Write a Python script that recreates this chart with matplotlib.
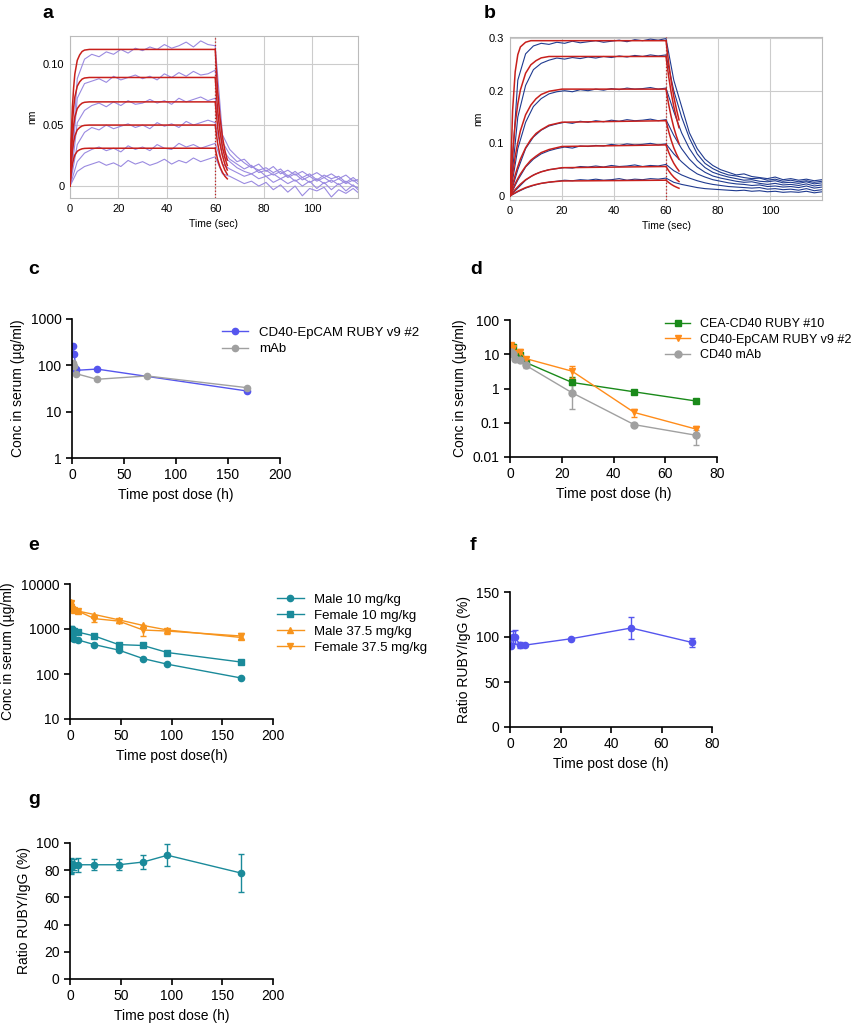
import numpy as np
import matplotlib
matplotlib.use("Agg")
import matplotlib.pyplot as plt

plt.rcParams['font.family'] = ['Liberation Sans', 'DejaVu Sans']

# ---------------- data: panel a (sensorgram) ----------------
t_assoc = list(range(0, 61, 3))
t_diss = list(range(63, 121, 3))
a_assoc = [
    [0, 0.088, 0.104, 0.108, 0.106, 0.110, 0.108, 0.112, 0.109, 0.113, 0.111, 0.114, 0.112, 0.116, 0.113, 0.115, 0.118, 0.114, 0.119, 0.116, 0.115],
    [0, 0.072, 0.084, 0.086, 0.088, 0.085, 0.090, 0.087, 0.089, 0.091, 0.088, 0.090, 0.087, 0.092, 0.089, 0.093, 0.090, 0.094, 0.091, 0.092, 0.095],
    [0, 0.052, 0.062, 0.066, 0.068, 0.065, 0.069, 0.066, 0.070, 0.067, 0.068, 0.071, 0.068, 0.070, 0.067, 0.072, 0.069, 0.071, 0.073, 0.070, 0.072],
    [0, 0.034, 0.044, 0.048, 0.046, 0.050, 0.047, 0.049, 0.051, 0.048, 0.050, 0.047, 0.052, 0.049, 0.051, 0.048, 0.053, 0.050, 0.052, 0.054, 0.052],
    [0, 0.020, 0.027, 0.030, 0.032, 0.029, 0.031, 0.028, 0.033, 0.030, 0.032, 0.029, 0.034, 0.031, 0.030, 0.035, 0.032, 0.034, 0.031, 0.033, 0.035],
    [0, 0.012, 0.016, 0.018, 0.020, 0.017, 0.019, 0.016, 0.021, 0.018, 0.020, 0.017, 0.019, 0.022, 0.018, 0.021, 0.019, 0.023, 0.020, 0.022, 0.024],
]
a_diss = [
    [0.042, 0.030, 0.024, 0.019, 0.015, 0.018, 0.012, 0.016, 0.010, 0.013, 0.009, 0.012, 0.008, 0.011, 0.007, 0.010, 0.006, 0.009, 0.004, 0.006],
    [0.036, 0.026, 0.020, 0.022, 0.016, 0.013, 0.015, 0.011, 0.014, 0.008, 0.012, 0.007, 0.010, 0.005, 0.009, 0.006, 0.008, 0.003, 0.007, 0.002],
    [0.030, 0.022, 0.018, 0.014, 0.017, 0.011, 0.013, 0.009, 0.012, 0.007, 0.010, 0.005, 0.008, 0.004, 0.007, 0.003, 0.006, 0.002, 0.005, 0.000],
    [0.025, 0.020, 0.015, 0.012, 0.010, 0.013, 0.008, 0.010, 0.006, 0.009, 0.004, 0.007, 0.003, 0.006, 0.002, 0.005, 0.001, 0.004, 0.000, -0.002],
    [0.018, 0.014, 0.011, 0.008, 0.010, 0.006, 0.008, 0.003, 0.006, 0.002, 0.005, 0.000, 0.004, -0.002, 0.003, -0.003, 0.002, -0.004, 0.001, -0.005],
    [0.010, 0.008, 0.005, 0.002, 0.004, 0.000, 0.003, -0.003, 0.001, -0.005, 0.000, -0.008, -0.002, -0.004, -0.001, -0.009, -0.003, -0.006, -0.002, -0.007],
]
a_fit_plateau = [0.112, 0.089, 0.069, 0.050, 0.031]
a_fit_t = [0, 0.5, 1, 1.5, 2, 3, 4, 5, 6, 8, 60]
a_fit_frac = [0, 0.35, 0.58, 0.72, 0.82, 0.92, 0.96, 0.985, 0.995, 1, 1]
a_dfit_t = [60, 61, 62, 63, 64, 65]
a_dfit_frac = [1, 0.70, 0.50, 0.36, 0.26, 0.19]

# ---------------- data: panel b ----------------
b_assoc = [
    [0, 0.22, 0.27, 0.285, 0.29, 0.288, 0.292, 0.29, 0.294, 0.291, 0.293, 0.295, 0.292, 0.294, 0.296, 0.293, 0.297, 0.295, 0.298, 0.296, 0.299],
    [0, 0.15, 0.21, 0.24, 0.252, 0.258, 0.262, 0.26, 0.263, 0.261, 0.264, 0.262, 0.265, 0.263, 0.266, 0.264, 0.267, 0.265, 0.268, 0.266, 0.268],
    [0, 0.09, 0.14, 0.17, 0.185, 0.194, 0.198, 0.2, 0.198, 0.202, 0.2, 0.203, 0.201, 0.204, 0.202, 0.205, 0.203, 0.204, 0.206, 0.203, 0.205],
    [0, 0.05, 0.09, 0.112, 0.125, 0.133, 0.137, 0.14, 0.138, 0.142, 0.14, 0.143, 0.141, 0.144, 0.142, 0.145, 0.143, 0.144, 0.146, 0.143, 0.145],
    [0, 0.03, 0.055, 0.07, 0.08, 0.086, 0.09, 0.093, 0.091, 0.095, 0.094, 0.096, 0.095, 0.098, 0.096, 0.099, 0.097, 0.098, 0.1, 0.097, 0.099],
    [0, 0.015, 0.03, 0.04, 0.046, 0.05, 0.052, 0.054, 0.053, 0.056, 0.055, 0.057, 0.055, 0.058, 0.056, 0.057, 0.059, 0.056, 0.058, 0.057, 0.06],
    [0, 0.008, 0.015, 0.02, 0.024, 0.026, 0.028, 0.03, 0.029, 0.031, 0.03, 0.032, 0.03, 0.031, 0.033, 0.03, 0.032, 0.031, 0.033, 0.032, 0.034],
]
b_diss = [
    [0.22, 0.17, 0.12, 0.09, 0.07, 0.058, 0.05, 0.045, 0.04, 0.042, 0.037, 0.035, 0.033, 0.036, 0.031, 0.033, 0.03, 0.032, 0.029, 0.031],
    [0.2, 0.15, 0.11, 0.08, 0.062, 0.052, 0.045, 0.04, 0.038, 0.035, 0.033, 0.034, 0.03, 0.032, 0.028, 0.03, 0.027, 0.029, 0.026, 0.028],
    [0.16, 0.12, 0.09, 0.068, 0.054, 0.045, 0.04, 0.036, 0.033, 0.03, 0.031, 0.028, 0.027, 0.029, 0.025, 0.026, 0.024, 0.027, 0.023, 0.025],
    [0.115, 0.09, 0.07, 0.055, 0.045, 0.038, 0.034, 0.031, 0.028, 0.026, 0.027, 0.024, 0.022, 0.024, 0.021, 0.022, 0.02, 0.023, 0.019, 0.021],
    [0.08, 0.065, 0.052, 0.042, 0.036, 0.031, 0.028, 0.025, 0.023, 0.022, 0.02, 0.021, 0.018, 0.019, 0.017, 0.018, 0.016, 0.019, 0.015, 0.017],
    [0.048, 0.04, 0.034, 0.029, 0.025, 0.022, 0.02, 0.018, 0.017, 0.016, 0.015, 0.016, 0.013, 0.014, 0.012, 0.013, 0.011, 0.014, 0.01, 0.012],
    [0.026, 0.022, 0.019, 0.016, 0.014, 0.013, 0.012, 0.011, 0.01, 0.011, 0.009, 0.01, 0.008, 0.009, 0.007, 0.008, 0.007, 0.009, 0.006, 0.008],
]
b_fit_plateau = [0.295, 0.265, 0.203, 0.143, 0.097, 0.056, 0.030]
b_fit_t = [0, 1, 2, 3, 4, 6, 8, 10, 12, 15, 20, 60]
b_fit_frac = [
    [0, 0.55, 0.80, 0.91, 0.96, 0.99, 1, 1, 1, 1, 1, 1],
    [0, 0.30, 0.52, 0.66, 0.76, 0.88, 0.94, 0.97, 0.99, 1, 1, 1],
    [0, 0.20, 0.37, 0.50, 0.61, 0.76, 0.85, 0.91, 0.95, 0.98, 1, 1],
    [0, 0.15, 0.28, 0.39, 0.49, 0.64, 0.75, 0.83, 0.88, 0.94, 0.98, 1],
    [0, 0.13, 0.24, 0.34, 0.43, 0.58, 0.70, 0.78, 0.85, 0.91, 0.97, 1],
    [0, 0.12, 0.22, 0.31, 0.40, 0.55, 0.66, 0.75, 0.82, 0.89, 0.96, 1],
    [0, 0.11, 0.21, 0.30, 0.38, 0.53, 0.64, 0.73, 0.80, 0.88, 0.95, 1],
]
b_dfit_t = [60, 61, 62, 63, 64, 65]
b_dfit_frac = [1, 0.86, 0.74, 0.64, 0.56, 0.49]

# ---------------- data: panel c ----------------
c_t_ruby = [1, 2, 4, 4, 24, 168]
c_ruby = [260, 175, 85, 78, 83, 28]
c_t_mab = [1, 2, 4, 24, 72, 168]
c_mab = [110, 95, 66, 50, 59, 33]

# ---------------- data: panel d ----------------
d_t = [0.5, 1, 2, 4, 6, 24, 48, 72]
d_cea = [17, 16, 10.5, 9.5, 5.8, 1.5, 0.8, 0.43]
d_cea_err = [3, 2, 1.5, 1.5, 1, 0.7, 0.08, 0.05]
d_ep = [19, 15, 11, 12, 7.5, 3.2, 0.2, 0.065]
d_ep_err = [3, 2, 1.5, 2, 1, 1.2, 0.05, 0.015]
d_mab = [12, 10, 7.5, 7, 4.8, 0.75, 0.088, 0.043]
d_mab_err = [2, 1.5, 1, 1, 0.7, 0.5, 0.01, 0.02]

# ---------------- data: panel e ----------------
e_t = [0.5, 1, 2, 4, 8, 24, 48, 72, 96, 168]
e_m10 = [700, 650, 620, 600, 570, 450, 340, 220, 165, 82]
e_f10 = [1000, 980, 950, 900, 850, 700, 450, 430, 300, 185]
e_m37 = [4000, 3300, 2900, 2700, 2500, 2100, 1600, 1200, 950, 650]
e_f37 = [3800, 3100, 2800, 2600, 2500, 1700, 1500, 950, 900, 700]
e_f37_err = [400, 300, 250, 200, 200, 300, 150, 250, 120, 100]

# ---------------- data: panel f ----------------
f_t = [0.5, 1, 2, 4, 6, 24, 48, 72]
f_ratio = [90, 100, 100, 91, 91, 98, 110, 94]
f_err = [0, 7, 8, 3, 0, 0, 12, 5]

# ---------------- data: panel g ----------------
g_t = [0.5, 1, 2, 4, 8, 24, 48, 72, 96, 168]
g_ratio = [83, 83, 83, 84, 84, 84, 84, 86, 91, 78]
g_err = [6, 5, 4, 4, 5, 4, 4, 5, 8, 14]

W, H = 856, 1024
fig = plt.figure(figsize=(W / 100, H / 100), dpi=100)


def pax(l, t, r, b):
    return fig.add_axes([l / W, 1 - b / H, (r - l) / W, (b - t) / H])


def sensor(ax, assoc, diss, color, fits, xlim, ylim, yticks, yticklabels):
    for i in range(len(assoc)):
        ax.plot(t_assoc + t_diss, assoc[i] + diss[i], color=color, lw=0.8, zorder=2)
    for tx, ty in fits:
        ax.plot(tx, ty, color='#c8201c', lw=1.1, zorder=3)
    ax.axvline(60, color='#c02020', lw=0.9, ls=':', zorder=4)
    ax.set_xlim(*xlim)
    ax.set_ylim(*ylim)
    ax.set_xticks([0, 20, 40, 60, 80, 100])
    ax.set_yticks(yticks)
    ax.set_yticklabels(yticklabels)
    ax.grid(True, color='#cccccc', lw=0.8)
    ax.set_axisbelow(True)
    for s in ax.spines.values():
        s.set_color('#bbbbbb')
    ax.tick_params(labelsize=8, length=0, pad=4)
    ax.set_xlabel('Time (sec)', fontsize=7.5)
    ax.set_ylabel('nm', fontsize=7.5)


# panel a
ax = pax(70, 36, 358, 198)
fits = []
for p in a_fit_plateau:
    fits.append((a_fit_t, [p * f for f in a_fit_frac]))
    fits.append((a_dfit_t, [p * f for f in a_dfit_frac]))
sensor(ax, a_assoc, a_diss, '#9a8ae0', fits, (0, 119), (-0.0098, 0.123),
       [0, 0.05, 0.10], ['0', '0.05', '0.10'])

# panel b
ax = pax(510, 37, 822, 200)
fits = []
for p, fr in zip(b_fit_plateau, b_fit_frac):
    fits.append((b_fit_t, [p * f for f in fr]))
    fits.append((b_dfit_t, [p * f for f in b_dfit_frac]))
sensor(ax, b_assoc, b_diss, '#1f3a8f', fits, (0, 120), (-0.0076, 0.302),
       [0, 0.1, 0.2, 0.3], ['0', '0.1', '0.2', '0.3'])


def pk_style(ax, xlabel, ylabel):
    for s in ['top', 'right']:
        ax.spines[s].set_visible(False)
    for s in ['left', 'bottom']:
        ax.spines[s].set_linewidth(1.2)
    ax.tick_params(labelsize=10, width=1.2, length=4)
    ax.set_xlabel(xlabel, fontsize=10)
    ax.set_ylabel(ylabel, fontsize=10)
    ax.minorticks_off()


from matplotlib.ticker import FixedLocator, FixedFormatter

# panel c
ax = pax(72, 319, 280, 458)
ax.plot(c_t_ruby, c_ruby, '-o', color='#5555ee', ms=4.5, lw=1, label='CD40-EpCAM RUBY v9 #2')
ax.plot(c_t_mab, c_mab, '-o', color='#a0a0a0', ms=4.5, lw=1, label='mAb')
ax.set_yscale('log')
ax.set_ylim(1, 1000)
ax.set_xlim(0, 200)
ax.set_xticks([0, 50, 100, 150, 200])
ax.yaxis.set_major_locator(FixedLocator([1, 10, 100, 1000]))
ax.yaxis.set_major_formatter(FixedFormatter(['1', '10', '100', '1000']))
pk_style(ax, 'Time post dose (h)', 'Conc in serum (µg/ml)')
ax.legend(loc='upper left', bbox_to_anchor=(210 / W, 1 - 315 / H), bbox_transform=fig.transFigure,
          frameon=False, fontsize=9.5, handlelength=2, labelspacing=0.3)

# panel d
ax = pax(510, 320, 717, 457)
ax.errorbar(d_t, d_cea, yerr=d_cea_err, fmt='-s', color='#1a8a1a', ms=5, lw=1, capsize=2, label='CEA-CD40 RUBY #10')
ax.errorbar(d_t, d_ep, yerr=d_ep_err, fmt='-v', color='#ff8c1a', ms=5, lw=1, capsize=2, label='CD40-EpCAM RUBY v9 #2')
ax.errorbar(d_t, d_mab, yerr=d_mab_err, fmt='-o', color='#a0a0a0', ms=5, lw=1, capsize=2, label='CD40 mAb')
ax.set_yscale('log')
ax.set_ylim(0.01, 100)
ax.set_xlim(0, 80)
ax.set_xticks([0, 20, 40, 60, 80])
ax.yaxis.set_major_locator(FixedLocator([0.01, 0.1, 1, 10, 100]))
ax.yaxis.set_major_formatter(FixedFormatter(['0.01', '0.1', '1', '10', '100']))
pk_style(ax, 'Time post dose (h)', 'Conc in serum (µg/ml)')
h, l = ax.get_legend_handles_labels()
ax.legend([x[0] for x in h], l, loc='upper left', bbox_to_anchor=(660 / W, 1 - 313 / H), bbox_transform=fig.transFigure,
          frameon=False, fontsize=9, handlelength=2, labelspacing=0.3, borderaxespad=0)

# panel e
ax = pax(70, 584, 273, 719)
teal = '#1a8a9a'
orng = '#f7941d'
ax.plot(e_t, e_m10, '-o', color=teal, ms=4.5, lw=1, label='Male 10 mg/kg')
ax.plot(e_t, e_f10, '-s', color=teal, ms=4.5, lw=1, label='Female 10 mg/kg')
ax.plot(e_t, e_m37, '-^', color=orng, ms=4.5, lw=1, label='Male 37.5 mg/kg')
eb = ax.errorbar(e_t, e_f37, yerr=e_f37_err, fmt='-v', color=orng, ms=4.5, lw=1, capsize=2, label='Female 37.5 mg/kg')
ax.set_yscale('log')
ax.set_ylim(10, 10000)
ax.set_xlim(0, 200)
ax.set_xticks([0, 50, 100, 150, 200])
ax.yaxis.set_major_locator(FixedLocator([10, 100, 1000, 10000]))
ax.yaxis.set_major_formatter(FixedFormatter(['10', '100', '1000', '10000']))
pk_style(ax, 'Time post dose(h)', 'Conc in serum (µg/ml)')
h, l = ax.get_legend_handles_labels()
h = [x[0] if isinstance(x, tuple) or hasattr(x, 'lines') else x for x in h]
h = [x.lines[0] if hasattr(x, 'lines') else x for x in h]
ax.legend(h, l, loc='upper left', bbox_to_anchor=(272 / W, 1 - 588 / H), bbox_transform=fig.transFigure,
          frameon=False, fontsize=9.5, handlelength=2, labelspacing=0.3, borderaxespad=0)

# panel f
ax = pax(510, 592, 712, 727)
ax.errorbar(f_t, f_ratio, yerr=f_err, fmt='-o', color='#5555ee', ms=4.5, lw=1, capsize=2)
ax.set_ylim(0, 150)
ax.set_xlim(0, 80)
ax.set_xticks([0, 20, 40, 60, 80])
ax.set_yticks([0, 50, 100, 150])
pk_style(ax, 'Time post dose (h)', 'Ratio RUBY/IgG (%)')

# panel g
ax = pax(70, 843, 273, 979)
ax.errorbar(g_t, g_ratio, yerr=g_err, fmt='-o', color=teal, ms=4.5, lw=1, capsize=2)
ax.set_ylim(0, 100)
ax.set_xlim(0, 200)
ax.set_xticks([0, 50, 100, 150, 200])
ax.set_yticks([0, 20, 40, 60, 80, 100])
pk_style(ax, 'Time post dose (h)', 'Ratio RUBY/IgG (%)')

for lab, x, y in [('a', 42, 14), ('b', 484, 14), ('c', 28, 270), ('d', 470, 270),
                  ('e', 28, 545), ('f', 470, 545), ('g', 28, 800)]:
    fig.text(x / W, 1 - y / H, lab, fontsize=14, fontweight='bold', va='center')

fig.savefig('out.png', dpi=100)
